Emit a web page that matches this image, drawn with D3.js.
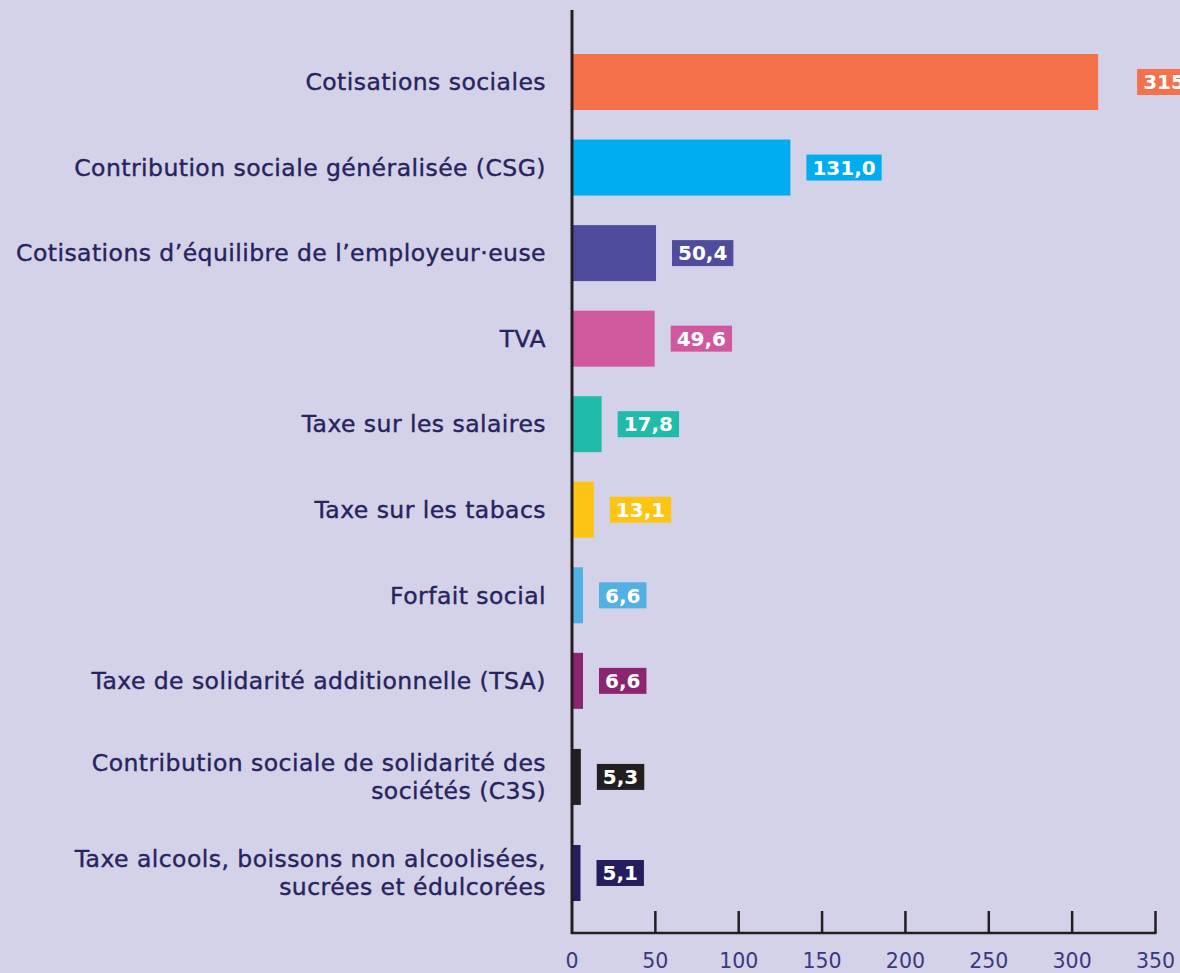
<!DOCTYPE html>
<html>
<head>
<meta charset="utf-8">
<script src="https://cdn.jsdelivr.net/npm/d3@7"></script>
<style>
  html, body { margin: 0; padding: 0; background: #d4d2e8; overflow: hidden; }
  #chart svg { display: block; }
</style>
</head>
<body>
<div id="chart"></div>
<script>
// Declare data
var categories = [
	["Cotisations sociales"],
	["Contribution sociale généralisée (CSG)"],
	["Cotisations d\u2019équilibre de l\u2019employeur·euse"],
	["TVA"],
	["Taxe sur les salaires"],
	["Taxe sur les tabacs"],
	["Forfait social"],
	["Taxe de solidarité additionnelle (TSA)"],
	["Contribution sociale de solidarité des", "sociétés (C3S)"],
	["Taxe alcools, boissons non alcoolisées,", "sucrées et édulcorées"]
];
var values = [315.6, 131.0, 50.4, 49.6, 17.8, 13.1, 6.6, 6.6, 5.3, 5.1];
var valueLabels = ["315,6", "131,0", "50,4", "49,6", "17,8", "13,1", "6,6", "6,6", "5,3", "5,1"];
var barColors = ["#f4714c", "#00adee", "#4f4c9e", "#d0599e", "#21bba9",
				 "#fdc413", "#52b0e3", "#8b2570", "#231f20", "#241e5e"];
var xTicks = [0, 50, 100, 150, 200, 250, 300, 350];

var width = 1180, height = 973;
var textColor = "#27235f";
var font = "'DejaVu Sans', sans-serif";

var svg = d3.select("#chart").append("svg")
	.attr("width", width)
	.attr("height", height);

svg.append("rect")
	.attr("width", width)
	.attr("height", height)
	.attr("fill", "#d4d2e8");

// rows with two-line labels take a bit more room
var slots = [];
var pos = 0;
categories.forEach(function(c, i) {
	if (i > 0) pos += (c.length > 1 ? 1.123 : 1);
	slots.push(pos);
});

var x = d3.scaleLinear()
	.domain([0, 350])
	.range([572, 1155.5]);

var y = d3.scaleLinear()
	.domain([0, slots[slots.length - 1]])
	.range([82, 873]);

var barH = 56;
var axisY = 933;

var rows = values.map(function(v, i) {
	return {value: v, label: valueLabels[i], name: categories[i], color: barColors[i], slot: slots[i], i: i};
});

// bars
svg.selectAll(".bar")
	.data(rows)
	.enter().append("rect")
	.attr("class", "bar")
	.attr("x", x(0))
	.attr("y", function(d) { return y(d.slot) - barH / 2; })
	.attr("width", function(d) { return x(d.value) - x(0); })
	.attr("height", barH)
	.attr("fill", function(d) { return d.color; });

// category labels
var cat = svg.selectAll(".cat")
	.data(rows)
	.enter().append("text")
	.attr("class", "cat")
	.attr("text-anchor", "end")
	.attr("fill", textColor)
	.attr("stroke", textColor)
	.attr("stroke-width", 0.4)
	.style("font-family", font)
	.style("font-size", "23.5px")
	.style("letter-spacing", "0.45px");

cat.each(function(d) {
	var t = d3.select(this);
	var n = d.name.length;
	d.name.forEach(function(line, k) {
		t.append("tspan")
			.attr("x", 546)
			.attr("y", y(d.slot) + (k - (n - 1) / 2) * 28)
			.attr("dy", "0.35em")
			.text(line);
	});
});

// value labels with boxes
var vg = svg.selectAll(".val")
	.data(rows)
	.enter().append("g")
	.attr("class", "val");

vg.each(function(d) {
	var g = d3.select(this);
	var gap = d.i === 0 ? 39 : 16;
	var x0 = x(d.value) + gap;
	var cy = y(d.slot);
	var box = g.append("rect")
		.attr("fill", d.color);
	var t = g.append("text")
		.attr("x", x0 + 6)
		.attr("y", cy)
		.attr("dy", "0.36em")
		.attr("fill", "#ffffff")
		.style("font-family", font)
		.style("font-weight", 700)
		.style("font-size", "20px")
		.text(d.label);
	var w = t.node().getComputedTextLength();
	box.attr("x", x0)
		.attr("y", cy - 13)
		.attr("width", w + 12)
		.attr("height", 26);
});

// axes
svg.append("line")
	.attr("x1", x(0)).attr("x2", x(0))
	.attr("y1", 10).attr("y2", axisY + 1)
	.attr("stroke", "#231f20")
	.attr("stroke-width", 3);

svg.append("line")
	.attr("x1", x(0) - 1).attr("x2", x(350) + 1)
	.attr("y1", axisY).attr("y2", axisY)
	.attr("stroke", "#231f20")
	.attr("stroke-width", 2.5);

svg.selectAll(".tick")
	.data(xTicks.slice(1))
	.enter().append("line")
	.attr("class", "tick")
	.attr("x1", function(d) { return x(d); })
	.attr("x2", function(d) { return x(d); })
	.attr("y1", axisY)
	.attr("y2", 911)
	.attr("stroke", "#231f20")
	.attr("stroke-width", 2.5);

svg.selectAll(".ticklabel")
	.data(xTicks)
	.enter().append("text")
	.attr("class", "ticklabel")
	.attr("x", function(d) { return x(d); })
	.attr("y", 961)
	.attr("dy", "0.35em")
	.attr("text-anchor", "middle")
	.attr("fill", "#3b3880")
	.style("font-family", font)
	.style("font-size", "20.5px")
	.text(function(d) { return d; });
</script>
</body>
</html>
